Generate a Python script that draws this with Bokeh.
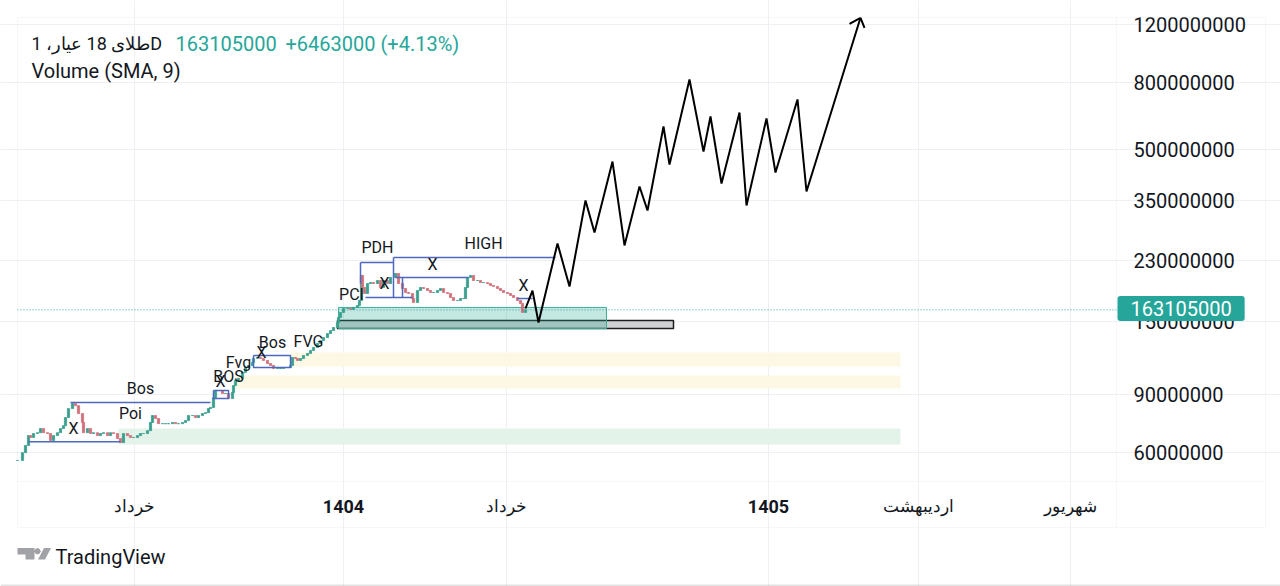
from bokeh.plotting import figure
from bokeh.models import Range1d, FixedTicker, Label, PolyAnnotation, ColumnDataSource
from bokeh.core.properties import value
from bokeh.embed import file_html
from bokeh.resources import INLINE

# ---------------- data (prices in millions) ----------------
bar_x = [0, 5, 8, 11, 13, 16, 20, 23, 26, 30, 33, 36, 40, 43, 46, 48, 51, 55, 58, 61,
         65, 66, 70, 73, 76, 80, 83, 86, 90, 93, 96, 100, 103, 106, 110, 113, 116, 120, 123, 126,
         130, 133, 135, 138, 141, 145, 148, 151, 155, 158, 161, 165, 168, 171, 175, 178, 181, 185, 188, 191,
         193, 196, 198, 201, 205, 208, 211, 215, 216, 218, 221, 225, 228, 231, 235, 236, 240, 243, 246, 250,
         253, 256, 260, 263, 266, 270, 273, 275, 278, 280, 283, 286, 290, 293, 296, 300, 303, 306, 310, 313,
         316, 320, 321, 323, 326,
         330, 333, 336, 340, 342, 344, 345, 347, 350, 353, 356, 360, 363, 366, 370, 373, 378, 381, 385, 388,
         391, 395, 396, 400, 403, 406, 410, 413, 416, 420, 423, 426, 430, 433, 436, 440, 443, 446, 448, 450,
         453, 456, 460, 463, 466, 470, 473, 476, 480, 483, 486, 490, 493, 496, 500, 503, 505, 508]
close = [56.9, 60.1, 63.2, 67.7, 66.8, 68.7, 69.1, 71.1, 69.1, 68.7,
         65.4, 67.7, 69.1, 71.1, 72.6, 76.8, 81.8, 84.7, 83.5, 79.0,
         74.2, 69.1, 71.1, 68.7, 69.1, 67.7, 68.7, 69.1, 67.7, 69.1,
         68.7, 66.3, 64.5, 68.7, 67.7, 66.8, 66.8, 67.7, 68.7, 68.7,
         70.1, 74.2, 77.9, 76.3, 73.6, 73.6, 73.6, 73.6, 74.2, 73.6,
         73.6, 74.2, 75.2, 77.9, 77.9, 76.8, 77.9, 79.0, 79.5, 81.8,
         82.4, 88.3, 92.8, 92.8, 90.9, 90.9, 87.7, 91.5, 96.1, 99.5,
         101.0, 105.3, 109.0, 110.6, 112.9, 116.1, 116.9, 116.1, 114.5, 112.1,
         110.6, 108.3, 108.3, 108.3, 109.0, 109.0, 110.6, 116.9, 116.1, 114.5,
         116.1, 118.6, 120.3, 122.8, 125.4, 129.0, 131.7, 134.4, 138.2, 141.2,
         144.2, 149.3, 154.7, 160.2, 164.7,
         164.7, 163.6, 165.9, 168.2, 174.2, 207.5, 190.7, 182.9, 196.1, 197.5,
         196.1, 200.3, 190.7, 200.3, 196.1, 204.6, 210.4, 196.1, 189.4, 184.2,
         182.9, 176.6, 171.8, 186.8, 190.7, 189.4, 186.8, 184.2, 184.2, 186.8,
         189.4, 184.2, 182.9, 177.8, 174.2, 174.2, 176.6, 176.6, 190.7, 204.6,
         207.5, 200.3, 200.3, 197.5, 197.5, 196.1, 193.4, 192.1, 189.4, 186.8,
         184.2, 182.9, 180.4, 177.8, 174.2, 170.6, 160.2, 163.1]

# projected zigzag path
zz_x = [508, 515, 521, 540, 552, 568, 577, 595, 607, 622, 630, 646, 652, 672, 686, 693,
        704, 722, 729, 749, 758, 780, 789, 843]
zz_y = [164.7, 186.7, 149.3, 259.6, 192.1, 350.5, 280.2, 460.3, 256.0, 386.5, 326.8, 588.0,
        450.8, 816.8, 493.7, 630.7, 394.7, 648.6, 338.4, 622.0, 426.2, 710.5, 373.3, 1257.6]
arrow_x = [832, 843, 847]
arrow_y = [1205.9, 1257.6, 1172.6]

# shaded zones
zone_left = [101, 273, 218]
zone_right = [883, 883, 883]
zone_bottom = [63.6, 109.8, 94.1]
zone_top = [71.1, 121.1, 103.1]
zone_color = ["#e4f3ea", "#fdf8e3", "#fdf8e3"]

# PCI boxes
teal_box = dict(left=321, right=589, bottom=143.1, top=165.9)
gray_bar = dict(left=320, right=656, bottom=143.1, top=151.4)

# blue drawing lines
bl_xs = [[53, 193], [11, 103], [196, 211, 211, 196, 196], [236, 273, 273, 236, 236],
         [343, 376], [343, 343], [376, 538], [376, 376], [348, 395], [378, 451], [385, 385], [500, 515]]
bl_ys = [[85.3, 85.3], [64.9, 64.9], [92.8, 92.8, 87.7, 87.7, 92.8], [118.6, 118.6, 109.0, 109.0, 118.6],
         [227.2, 227.2], [227.2, 196.1], [235.3, 235.3], [235.3, 177.8], [177.8, 177.8],
         [204.6, 204.6], [204.6, 177.8], [176.6, 176.6]]

# drawing texts
ann_text = ["X", "Poi", "Bos", "BOS", "X", "Fvg", "X", "Bos", "FVG", "PCI", "PDH", "X", "X", "HIGH", "X"]
ann_x = [56, 113, 123, 211, 203, 221, 244, 255, 291, 334, 360, 367, 415, 466, 506]
ann_y = [71.1, 79.0, 94.1, 102.4, 98.8, 112.9, 121.1, 129.9, 130.8, 181.6, 252.3, 196.1, 224.0, 259.5, 193.4]

# axes
y_ticks = [60, 90, 150, 230, 350, 500, 800, 1200]
y_tick_labels = ["60000000", "90000000", "150000000", "230000000", "350000000",
                 "500000000", "800000000", "1200000000"]
x_month_ticks = [117, 489, 901, 1053]
x_month_labels = ["خرداد", "خرداد", "اردیبهشت", "شهریور"]
x_year_ticks = [326, 751]
x_year_labels = ["1404", "1405"]

chart_x_end = 1099      # right edge of the price pane (time units)
chart_y_low = 49.1      # bottom edge of the price pane (millions)
chart_y_high = 1260.2   # top edge of the price pane (millions)

last_price = 163.1
last_price_text = "163105000"
title_text = "طلای 18 عیار، 1D"
change_text = "+6463000 (+4.13%)"
volume_text = "Volume (SMA, 9)"

# ---------------- figure ----------------
FONT = "Roboto"
TEAL = "#26a69a"
INK = "#131722"
BORDER = "#e0e3eb"
p = figure(width=1280, height=586, x_range=Range1d(-17, 1263), y_range=Range1d(23.57, 1419.3),
           y_axis_type="log", y_axis_location="right", output_backend="svg", toolbar_location=None,
           min_border_left=0, min_border_top=0, min_border_right=0, min_border_bottom=0)
p.background_fill_color = "white"
p.border_fill_color = "white"
p.outline_line_color = None

# grids (limited to the price pane)
p.xgrid.ticker = FixedTicker(ticks=sorted(x_month_ticks + x_year_ticks))
p.ygrid.ticker = FixedTicker(ticks=y_ticks, minor_ticks=[])
p.xgrid.bounds = (chart_y_low, chart_y_high)
p.ygrid.bounds = (0, chart_x_end)
p.xgrid.grid_line_color = "#eef0f5"
p.ygrid.grid_line_color = "#eef0f5"

# y axis (labels placed back into the axis column)
ya = p.yaxis[0]
ya.ticker = FixedTicker(ticks=y_ticks, minor_ticks=[])
ya.major_label_overrides = {t: l for t, l in zip(y_ticks, y_tick_labels)}
ya.axis_line_color = None
ya.major_tick_line_color = None
ya.minor_tick_line_color = None
ya.major_tick_out = 0
ya.major_tick_in = 0
ya.major_label_standoff = -147
ya.major_label_text_font = FONT
ya.major_label_text_font_size = "20px"
ya.major_label_text_color = INK

# x axis
xa = p.xaxis[0]
xa.ticker = FixedTicker(ticks=x_month_ticks, minor_ticks=[])
xa.major_label_overrides = {t: l for t, l in zip(x_month_ticks, x_month_labels)}
xa.axis_line_color = None
xa.major_tick_line_color = None
xa.minor_tick_line_color = None
xa.major_tick_out = 0
xa.major_tick_in = 0
xa.major_label_standoff = -91
xa.major_label_text_font = FONT
xa.major_label_text_font_size = "17px"
xa.major_label_text_color = INK

for t, l in zip(x_year_ticks, x_year_labels):
    p.add_layout(Label(x=t, x_units="data", y=506, y_units="canvas", text=l,
                       text_font=FONT, text_font_size="18px", text_font_style="bold",
                       text_color=INK, text_align="center", text_baseline="middle"))

# zones
p.quad(left=zone_left, right=zone_right, bottom=zone_bottom, top=zone_top,
       fill_color=zone_color, line_color=None)

# PCI boxes
p.quad(left=[gray_bar["left"]], right=[gray_bar["right"]], bottom=[gray_bar["bottom"]], top=[gray_bar["top"]],
       fill_color="#cfd0d2", line_color="#1e1e1e", line_width=1.5)
p.quad(left=[teal_box["left"]], right=[teal_box["right"]], bottom=[teal_box["bottom"]], top=[teal_box["top"]],
       fill_color="#22ab94", fill_alpha=0.27, line_color="#3fae97", line_width=1)

# candles
opens = [close[0]] + close[:-1]
cols = ["#3a9e8d" if c >= o else "#d0707a" for o, c in zip(opens, close)]
src = ColumnDataSource(dict(x=bar_x, top=[max(o, c) for o, c in zip(opens, close)],
                            bottom=[min(o, c) for o, c in zip(opens, close)], color=cols))
p.vbar(x="x", width=2.2, top="top", bottom="bottom", fill_color="color", line_color="color",
       line_width=0.8, source=src)

# blue drawing lines
p.multi_line(xs=bl_xs, ys=bl_ys, line_color="#4d68bd", line_width=1.5)

# price line (dotted, across the price pane)
p.line([0, chart_x_end], [last_price, last_price], line_color=TEAL, line_dash="1 2", line_width=1)

# zigzag projection
p.line(zz_x, zz_y, line_color="black", line_width=2)
p.line(arrow_x, arrow_y, line_color="black", line_width=2)

# drawing texts
p.text(x=ann_x, y=ann_y, text=ann_text, text_font=value(FONT), text_font_size="16px",
       text_color=INK, text_align="center", text_baseline="middle")

# pane borders
p.add_layout(PolyAnnotation(xs=[17, 1265, 1265, 17], ys=[17, 17, 527, 527], xs_units="canvas", ys_units="canvas",
                            fill_color=None, line_color=BORDER, line_width=1))
p.add_layout(PolyAnnotation(xs=[1116, 1116], ys=[17, 527], xs_units="canvas", ys_units="canvas",
                            fill_color=None, line_color=BORDER, line_width=1))
p.add_layout(PolyAnnotation(xs=[17, 1265], ys=[481, 481], xs_units="canvas", ys_units="canvas",
                            fill_color=None, line_color=BORDER, line_width=1))
p.add_layout(PolyAnnotation(xs=[0, 1280], ys=[585, 585], xs_units="canvas", ys_units="canvas",
                            fill_color=None, line_color="#a0a0a0", line_width=2))

# header
p.add_layout(Label(x=31, y=43, x_units="canvas", y_units="canvas", text=title_text,
                   text_font=FONT, text_font_size="18px", text_color=INK, text_baseline="middle"))
p.add_layout(Label(x=175, y=43, x_units="canvas", y_units="canvas", text=last_price_text,
                   text_font=FONT, text_font_size="20px", text_color=TEAL, text_baseline="middle"))
p.add_layout(Label(x=285, y=43, x_units="canvas", y_units="canvas", text=change_text,
                   text_font=FONT, text_font_size="20px", text_color=TEAL, text_baseline="middle"))
p.add_layout(Label(x=31, y=70, x_units="canvas", y_units="canvas", text=volume_text,
                   text_font=FONT, text_font_size="20px", text_color=INK, text_baseline="middle"))

# price label on axis
p.add_layout(Label(x=1117, y=308, x_units="canvas", y_units="canvas", text=last_price_text,
                   text_font=FONT, text_font_size="20px", text_color="white", text_baseline="middle",
                   background_fill_color=TEAL, padding=(13, 5), border_radius=3))

# TradingView logo
p.add_layout(PolyAnnotation(xs=[17, 34, 34, 25, 25, 17], ys=[547.5, 547.5, 559, 559, 554, 554],
                            xs_units="canvas", ys_units="canvas", fill_color=INK, line_color=None))
p.add_layout(PolyAnnotation(xs=[40.2, 39.2, 37, 34.8, 33.8, 34.8, 37, 39.2],
                            ys=[550.7, 552.9, 553.9, 552.9, 550.7, 548.5, 547.5, 548.5],
                            xs_units="canvas", ys_units="canvas", fill_color=INK, line_color=None))
p.add_layout(PolyAnnotation(xs=[37.5, 44.5, 50.5, 43.5], ys=[559, 559, 547.5, 547.5],
                            xs_units="canvas", ys_units="canvas", fill_color=INK, line_color=None))
p.add_layout(Label(x=55, y=556, x_units="canvas", y_units="canvas", text="TradingView",
                   text_font=FONT, text_font_size="20px", text_color=INK, text_baseline="middle"))

open("out.html", "w").write(file_html(p, INLINE))
